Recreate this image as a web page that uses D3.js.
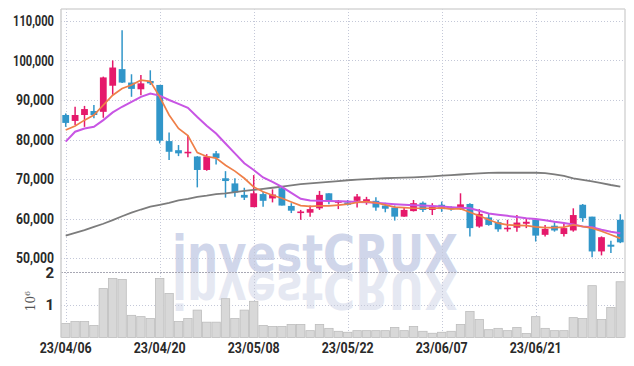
<!DOCTYPE html>
<html>
<head>
<meta charset="utf-8">
<script src="https://cdn.jsdelivr.net/npm/d3@7"></script>
<style>
body { margin: 0; background: #fff; }
svg { display: block; font-family: Roboto, "DejaVu Sans", sans-serif; }
</style>
</head>
<body>
<svg width="634" height="366"></svg>
<script>
// trading days shown
var dates = ["23/04/06","23/04/07","23/04/10","23/04/11","23/04/12","23/04/13","23/04/14","23/04/17","23/04/18","23/04/19",
  "23/04/20","23/04/21","23/04/24","23/04/25","23/04/26","23/04/27","23/04/28","23/05/02","23/05/03","23/05/04",
  "23/05/08","23/05/09","23/05/10","23/05/11","23/05/12","23/05/15","23/05/16","23/05/17","23/05/18","23/05/19",
  "23/05/22","23/05/23","23/05/24","23/05/25","23/05/26","23/05/30","23/05/31","23/06/01","23/06/02","23/06/05",
  "23/06/07","23/06/08","23/06/09","23/06/12","23/06/13","23/06/14","23/06/15","23/06/16","23/06/19","23/06/20",
  "23/06/21","23/06/22","23/06/23","23/06/26","23/06/27","23/06/28","23/06/29","23/06/30","23/07/03","23/07/04"];

var open  = [86200,84700,86200,87200,87000,93600,97800,94400,92700,94800,
  93800,79600,77300,76500,75700,72300,76500,70200,68900,66000,
  62900,66200,65100,67700,63200,61400,61500,62600,66400,64000,
  64100,64500,64300,64500,63300,62800,60500,61900,64000,62200,
  63500,62900,62400,63700,58000,60300,59100,57300,57700,58700,
  59700,55900,58200,56100,57000,63500,60500,51700,53400,59700];
var high  = [86600,88300,88500,88700,95900,100000,107600,96500,96300,97500,
  93800,81800,78600,81100,75800,76300,77100,72000,70200,67800,
  71000,66800,67400,68000,63900,62200,63300,67000,66400,64700,
  64700,66200,65500,65400,64000,63300,62700,64700,64300,63900,
  64300,63100,66400,63900,62400,61200,59700,59700,60900,60100,
  59700,58400,59100,59000,62600,63700,60500,55500,54400,61100];
var low   = [83200,83700,83200,85400,85500,91300,94300,90800,91200,93800,
  79000,74800,75800,75500,67900,72100,73700,65300,65500,64700,
  62900,63000,64100,63300,61400,59700,60500,62200,63600,62400,
  63300,62800,63500,62000,61600,59500,60500,61800,61700,60900,
  61700,62000,62200,55500,57700,58200,56700,56700,56700,57600,
  54200,55500,56700,55500,56700,59200,50200,50700,51300,53800];
var close = [84200,86200,87700,86200,95700,98200,94400,92800,94200,94200,
  79700,76900,76500,76900,72300,75700,75300,69500,66600,65300,
  66400,64500,66100,63300,62000,61800,62400,66000,64300,64500,
  63500,65600,64900,62800,62500,60500,62200,63900,62200,63000,
  62400,62400,63600,57600,61200,58400,57300,57700,59000,59200,
  55700,57400,57000,57600,60900,60100,51700,55300,52900,54000];

// volume, millions of shares
var volume = [0.43,0.49,0.49,0.37,1.50,1.81,1.78,0.68,0.64,0.58,
  1.81,1.35,0.49,0.58,0.84,0.47,0.47,1.19,0.58,0.84,
  1.11,0.37,0.34,0.34,0.40,0.40,0.21,0.40,0.28,0.19,
  0.16,0.21,0.21,0.21,0.21,0.31,0.21,0.34,0.19,0.13,
  0.16,0.19,0.40,0.80,0.55,0.24,0.28,0.21,0.31,0.12,
  0.64,0.28,0.21,0.21,0.61,0.58,1.59,0.55,0.92,1.71];

// moving averages
var maShort = [82400,83400,84900,86200,88700,91200,92900,93800,95000,94700,
  90800,86200,82800,81000,76700,75700,75300,73500,72000,70200,
  68000,66800,65900,65150,64200,63300,63100,63200,63200,63400,
  63640,64100,64290,64000,63460,62900,62780,62620,62620,62620,
  62700,62400,62500,61600,60700,59700,58840,58400,58300,58230,
  57900,57730,57730,57850,58400,58000,57580,56800,55900,55000];
var maMid = [79450,81970,82800,83230,84900,86860,88280,89540,90800,91600,
  91100,90000,89000,88000,85700,83500,81500,79000,76500,74000,
  72300,70400,69300,68000,66500,65000,64600,64500,64470,64400,
  64300,64200,64140,64000,63800,63640,63500,63400,63300,63200,
  63050,62900,62750,62600,62000,61300,61000,60700,60400,60100,
  59900,59600,59200,58900,58500,58000,57800,57200,56700,56300];
var maLong = [55700,56400,57100,57900,58700,59600,60600,61500,62300,63000,
  63500,64000,64600,65000,65500,65800,66200,66400,66700,67000,
  67250,67500,67800,68100,68400,68700,68900,69100,69300,69500,
  69700,69850,70000,70100,70200,70300,70350,70450,70550,70700,
  70850,71000,71150,71300,71450,71550,71600,71600,71600,71600,
  71600,71500,71200,70800,70200,69800,69400,69000,68500,68100];

var priceTicks = [50000,60000,70000,80000,90000,100000,110000];
var volTicks = [1,2];
var dateTicks = ["23/04/06","23/04/20","23/05/08","23/05/22","23/06/07","23/06/21"];

var svg = d3.select("svg");
var L = 61, R = 625, T = 9, PB = 272, VT = 272.3, VB = 337.5;

var x = d3.scaleBand().domain(dates).range([L, R]).padding(0);
var bw = x.bandwidth();
var cx = function(d) { return x(d) + bw / 2; };
var y = d3.scaleLinear().domain([46500, 113000]).range([PB, T]);
var yv = d3.scaleLinear().domain([0, 2]).range([VB, VT]);

// watermark with reflection
function watermark(fill, flip) {
  var t = svg.append("text")
    .attr("x", 172).attr("y", 272)
    .attr("textLength", 286).attr("lengthAdjust", "spacingAndGlyphs")
    .style("font-family", "'DejaVu Sans', sans-serif")
    .style("font-weight", "bold").style("font-size", "52px")
    .style("fill", fill)
    .text("investCRUX");
  if (flip) t.attr("transform", "translate(0,544) scale(1,-1)");
}
watermark("#d0d6ea", false);
watermark("#e5e8f2", true);

// grid
var grid = svg.append("g").attr("stroke", "#c4c8d8").attr("stroke-dasharray", "1,2");
grid.selectAll(".hp").data(priceTicks).enter().append("line")
  .attr("x1", L).attr("x2", R)
  .attr("y1", function(d) { return Math.round(y(d)) + 0.5; })
  .attr("y2", function(d) { return Math.round(y(d)) + 0.5; });
grid.selectAll(".hv").data([1]).enter().append("line")
  .attr("x1", L).attr("x2", R)
  .attr("y1", function(d) { return Math.round(yv(d)) + 0.5; })
  .attr("y2", function(d) { return Math.round(yv(d)) + 0.5; });
grid.selectAll(".vx").data(dateTicks).enter().append("line")
  .attr("y1", T).attr("y2", VB)
  .attr("x1", function(d) { return Math.round(cx(d)) + 0.5; })
  .attr("x2", function(d) { return Math.round(cx(d)) + 0.5; });

// volume bars
svg.append("g").selectAll("rect").data(volume).enter().append("rect")
  .attr("x", function(d, i) { return x(dates[i]) + 0.5; })
  .attr("width", bw - 1)
  .attr("y", function(d) { return yv(d); })
  .attr("height", function(d) { return VB - yv(d); })
  .attr("fill", "#d8d8d8").attr("stroke", "#bdbdbd").attr("stroke-width", 0.8);

// frame
svg.append("line").attr("x1", L).attr("x2", R).attr("y1", 272.5).attr("y2", 272.5)
  .attr("stroke", "#a8a8b4").attr("stroke-dasharray", "2,1");
svg.append("line").attr("x1", L).attr("x2", R).attr("y1", T).attr("y2", T)
  .attr("stroke", "#d6d6d6").attr("stroke-width", 1.5);
svg.append("line").attr("x1", L).attr("x2", L).attr("y1", T).attr("y2", VB)
  .attr("stroke", "#cfcfcf").attr("stroke-width", 1.5);
svg.append("line").attr("x1", R).attr("x2", R).attr("y1", T).attr("y2", VB)
  .attr("stroke", "#d6d6d6").attr("stroke-width", 1.5);

// candles
var up = "#e5196b", down = "#3196c9";
var idx = d3.range(dates.length);
var candle = svg.append("g").selectAll("g").data(idx).enter().append("g");
candle.append("line")
  .attr("x1", function(i) { return cx(dates[i]); })
  .attr("x2", function(i) { return cx(dates[i]); })
  .attr("y1", function(i) { return y(high[i]); })
  .attr("y2", function(i) { return y(low[i]); })
  .attr("stroke", function(i) { return close[i] >= open[i] ? up : down; })
  .attr("stroke-width", 1.5);
candle.append("rect")
  .attr("x", function(i) { return cx(dates[i]) - 3.4; })
  .attr("width", 6.8)
  .attr("y", function(i) { return y(Math.max(open[i], close[i])); })
  .attr("height", function(i) { return Math.max(1.5, Math.abs(y(open[i]) - y(close[i]))); })
  .attr("fill", function(i) { return close[i] >= open[i] ? up : down; });

// moving average lines
var line = d3.line()
  .x(function(d, i) { return cx(dates[i]); })
  .y(function(d) { return y(d); });
svg.append("path").attr("d", line(maLong)).attr("fill", "none")
  .attr("stroke", "#7c7c7c").attr("stroke-width", 1.8);
svg.append("path").attr("d", line(maMid)).attr("fill", "none")
  .attr("stroke", "#c855e4").attr("stroke-width", 2);
svg.append("path").attr("d", line(maShort)).attr("fill", "none")
  .attr("stroke", "#ef7f48").attr("stroke-width", 1.7);

// axes
var yAxis = svg.append("g").attr("transform", "translate(" + L + ",0)")
  .call(d3.axisLeft(y).tickValues(priceTicks).tickFormat(d3.format(",")).tickSize(0).tickPadding(7));
var vAxis = svg.append("g").attr("transform", "translate(" + L + ",0)")
  .call(d3.axisLeft(yv).tickValues(volTicks).tickFormat(d3.format("d")).tickSize(0).tickPadding(7));
var xAxis = svg.append("g").attr("transform", "translate(0," + VB + ")")
  .call(d3.axisBottom(x).tickValues(dateTicks).tickSize(0).tickPadding(5));
[yAxis, vAxis, xAxis].forEach(function(a) {
  a.select(".domain").remove();
  a.selectAll("text").style("font-family", "Roboto, 'DejaVu Sans', sans-serif")
    .style("font-size", "15px").style("font-weight", "bold").style("fill", "#2a2a2a");
});
yAxis.selectAll("text").attr("lengthAdjust", "spacingAndGlyphs")
  .attr("textLength", function(d) { return d >= 100000 ? 41 : 38; });
xAxis.selectAll("text").attr("lengthAdjust", "spacingAndGlyphs").attr("textLength", 52);

// 10^6 unit label
var unit = svg.append("text")
  .attr("transform", "translate(35,301) rotate(-90)")
  .attr("text-anchor", "middle")
  .style("font-family", "'DejaVu Serif', serif").style("font-size", "12px").style("fill", "#555");
unit.append("tspan").text("10");
unit.append("tspan").attr("dy", -5).style("font-size", "8px").text("6");
</script>
</body>
</html>
